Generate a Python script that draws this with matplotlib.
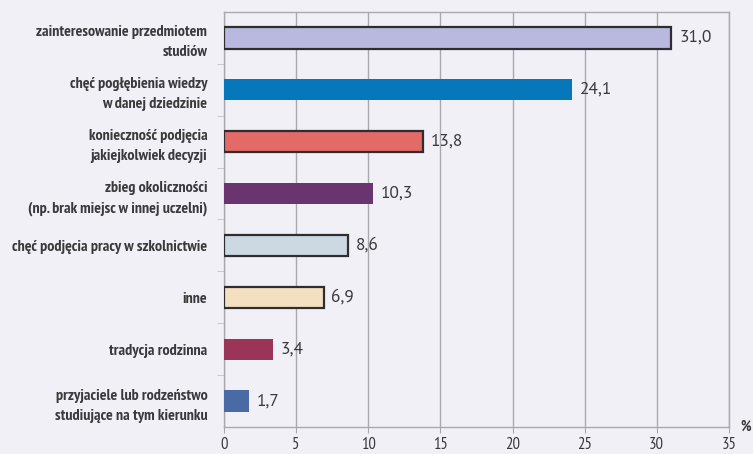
import matplotlib.pyplot as plt
import numpy as np

plt.rcParams['font.family'] = ['PT Sans Narrow', 'DejaVu Sans']

labels = [
    'zainteresowanie przedmiotem\nstudiów',
    'chęć pogłębienia wiedzy\nw danej dziedzinie',
    'konieczność podjęcia\njakiejkolwiek decyzji',
    'zbieg okoliczności\n(np. brak miejsc w innej uczelni)',
    'chęć podjęcia pracy w szkolnictwie',
    'inne',
    'tradycja rodzinna',
    'przyjaciele lub rodzeństwo\nstudiujące na tym kierunku',
]
values = [31.0, 24.1, 13.8, 10.3, 8.6, 6.9, 3.4, 1.7]
value_text = ['31,0', '24,1', '13,8', '10,3', '8,6', '6,9', '3,4', '1,7']
x_ticks = [0, 5, 10, 15, 20, 25, 30, 35]

colors = ['#b9b9df', '#0777bb', '#e46a68', '#6a3470',
          '#cdd9e2', '#f4e0c0', '#9a3558', '#4a6aa5']
outlined = [True, False, True, False, True, True, False, False]
bg = '#f1f0f6'
grid_c = '#a9a9ad'
text_c = '#3a3a3c'

fig = plt.figure(figsize=(7.53, 4.54), dpi=100, facecolor=bg)
ax = fig.add_axes([0.2975, 0.0595, 0.6705, 0.9141], facecolor=bg)

y = np.arange(len(values))
for i, v in enumerate(values):
    ax.barh(y[i], v, height=0.41, color=colors[i],
            edgecolor='#2e2e30' if outlined[i] else colors[i],
            linewidth=1.6 if outlined[i] else 0, zorder=3)
    ax.text(v + 0.55, y[i], value_text[i], va='center', ha='left',
            fontsize=12.5, color=text_c, family='PT Sans')

ax.set_xlim(0, 35)
ax.set_ylim(len(values) - 0.5, -0.5)
ax.set_xticks(x_ticks)
ax.set_xticklabels([str(t) for t in x_ticks], fontsize=12, color=text_c)
ax.tick_params(axis='x', length=4, color=grid_c, pad=3)

# category names on the left, tick marks between categories
ax.set_yticks(y)
ax.set_yticklabels(labels, fontsize=11.5, color=text_c, fontweight='bold',
                   linespacing=1.55)
ax.tick_params(axis='y', length=0, pad=12)
ax.set_yticks(np.arange(len(values) - 1) + 0.5, minor=True)
ax.tick_params(axis='y', which='minor', length=5, color='#c4c4c8')

ax.grid(axis='x', color=grid_c, linewidth=1.0, zorder=0)
for s in ax.spines.values():
    s.set_color(grid_c)
    s.set_linewidth(1.0)

ax.text(35.8, len(values) - 0.5, '%', fontsize=10.5, color=text_c,
        fontweight='bold', ha='left', va='center')

fig.savefig('out.png', dpi=100, facecolor=bg)
